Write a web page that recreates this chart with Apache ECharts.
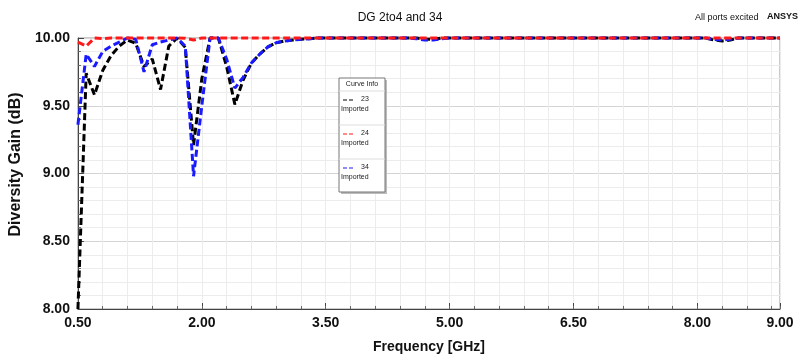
<!DOCTYPE html>
<html>
<head>
<meta charset="utf-8">
<script src="https://cdn.jsdelivr.net/npm/echarts@6/dist/echarts.min.js"></script>
<style>html,body{margin:0;padding:0;background:#fff}#c{width:800px;height:359px}</style>
</head>
<body>
<div id="c"></div>
<script>
// Frequencies (GHz)
var freq = [0.5,0.6,0.7,0.8,0.9,1.0,1.1,1.2,1.3,1.4,1.5,1.6,1.7,1.8,1.9,2.0,2.1,2.2,2.3,2.4,2.5,2.6,2.7,2.8,2.9,3.0,3.1,3.2,3.3,3.4,
            3.5,4.0,4.5,4.6,4.7,4.8,4.9,5.0,5.5,6.0,6.5,7.0,7.5,8.0,8.1,8.2,8.3,8.4,8.5,9.0];
// Diversity gain (dB)
var dg23 = [8.00,9.74,9.58,9.76,9.87,9.94,9.985,9.96,9.79,9.845,9.62,9.94,10.0,9.93,9.21,9.70,10.0,10.0,9.79,9.51,9.69,9.815,9.88,9.935,9.965,9.978,9.985,9.99,9.995,10.0,
            10.0,10.0,10.0,10.0,9.99,9.99,10.0,10.0,10.0,10.0,10.0,10.0,10.0,10.0,10.0,9.985,9.978,9.985,10.0,10.0];
var dg24 = [9.97,9.94,10.0,9.995,10.0,10.0,10.0,10.0,10.0,10.0,10.0,10.0,10.0,9.998,9.985,10.0,10.0,10.0,10.0,10.0,10.0,10.0,10.0,10.0,10.0,10.0,10.0,10.0,10.0,10.0,
            10.0,10.0,10.0,10.0,10.0,10.0,10.0,10.0,10.0,10.0,10.0,10.0,10.0,10.0,10.0,10.0,10.0,10.0,10.0,10.0];
var dg34 = [9.36,9.88,9.79,9.90,9.94,9.97,10.0,9.99,9.75,9.95,9.97,9.985,10.0,9.94,8.98,9.50,10.0,10.0,9.845,9.63,9.71,9.815,9.88,9.935,9.965,9.978,9.985,9.99,9.995,10.0,
            10.0,10.0,10.0,9.995,9.985,9.985,9.995,10.0,10.0,10.0,10.0,10.0,10.0,10.0,10.0,9.99,9.985,9.99,10.0,10.0];
var seriesNames = ['23','24','34'];
var seriesColors = ['#000000','#ff1a1a','#1a1aff'];
var xTicks = [0.5,2.0,3.5,5.0,6.5,8.0,9.0];
var yTicks = [8.0,8.5,9.0,9.5,10.0];

function pairs(ys){ return freq.map(function(f,i){ return [f, ys[i]]; }); }

var chart = echarts.init(document.getElementById('c'), null, {renderer:'canvas'});
var dash = [7,3.5];
function mkSeries(name, ys, color, z){
  return {name:name, type:'line', data:pairs(ys), showSymbol:false, symbol:'none', z:z,
    lineStyle:{color:color, width:3, type:dash}, clip:false, animation:false};
}
var legendY = [100,134,168];
var graphics = [
  {type:'text', left:'center', top:12, style:{text:'DG 2to4 and 34', font:'12px "Liberation Sans", Arial', fill:'#111'}},
  {type:'text', x:695, y:13, style:{text:'All ports excited', font:'9px "Liberation Sans", Arial', fill:'#111'}},
  {type:'text', x:767, y:12, style:{text:'ANSYS', font:'bold 9px "Liberation Sans", Arial', fill:'#111'}},
  {type:'rect', shape:{x:341, y:80, width:46, height:114}, style:{fill:'#bbb'}, z:10},
  {type:'rect', shape:{x:339, y:78, width:46, height:114}, style:{fill:'#fff', stroke:'#777', lineWidth:1}, z:11},
  {type:'text', x:362, y:81, style:{text:'Curve Info', font:'7px "Liberation Sans", Arial', fill:'#222', align:'center'}, z:12},
  {type:'line', shape:{x1:339,y1:91,x2:385,y2:91}, style:{stroke:'#ddd', lineWidth:1}, z:12},
  {type:'line', shape:{x1:339,y1:125,x2:385,y2:125}, style:{stroke:'#ddd', lineWidth:1}, z:12},
  {type:'line', shape:{x1:339,y1:159,x2:385,y2:159}, style:{stroke:'#ddd', lineWidth:1}, z:12}
];
seriesNames.forEach(function(n,i){
  var y = legendY[i];
  graphics.push({type:'line', shape:{x1:343,y1:y,x2:355,y2:y}, style:{stroke:seriesColors[i], lineWidth:1.2, lineDash:[4,2]}, z:12});
  graphics.push({type:'text', x:361, y:y-4, style:{text:n, font:'7px "Liberation Sans", Arial', fill:'#222'}, z:12});
  graphics.push({type:'text', x:341, y:y+6, style:{text:'Imported', font:'7px "Liberation Sans", Arial', fill:'#222'}, z:12});
});

var option = {
  animation:false,
  backgroundColor:'#fff',
  grid:{left:74, right:20, top:38, bottom:47, show:true, borderColor:'#999', borderWidth:1},
  xAxis:[
    {type:'value', min:0.5, max:9, interval:1.5, position:'bottom',
     name:'Frequency [GHz]', nameLocation:'middle', nameGap:31,
     nameTextStyle:{fontFamily:'"Liberation Sans", Arial', fontWeight:'bold', fontSize:14, color:'#111'},
     axisLine:{show:true, onZero:false, lineStyle:{color:'#444', width:1}},
     axisTick:{show:true, inside:true, length:6, lineStyle:{color:'#444'}},
     axisLabel:{margin:7, fontFamily:'"Liberation Sans", Arial', fontWeight:'bold', fontSize:14, color:'#111',
       showMaxLabel:true, formatter:function(v){return v.toFixed(2);}},
     splitLine:{show:true, lineStyle:{color:'#d4d4d4', width:1}}
    },
    {type:'value', min:0.5, max:9, interval:0.3, position:'bottom',
     axisLine:{show:false}, axisLabel:{show:false},
     axisTick:{show:true, inside:true, length:3, lineStyle:{color:'#666'}},
     splitLine:{show:true, lineStyle:{color:'#ececec', width:1}}
    }
  ],
  yAxis:{type:'value', min:8, max:10, interval:0.5,
    name:'Diversity Gain (dB)', nameLocation:'middle', nameGap:48, nameRotate:90,
    nameTextStyle:{fontFamily:'"Liberation Sans", Arial', fontWeight:'bold', fontSize:16, color:'#111', padding:[0,0,0,18]},
    axisLine:{show:true, lineStyle:{color:'#444', width:1}},
    axisTick:{show:true, inside:true, length:6, lineStyle:{color:'#444'}},
    minorTick:{show:true, splitNumber:5, length:3, lineStyle:{color:'#666'}},
    axisLabel:{margin:8, fontFamily:'"Liberation Sans", Arial', fontWeight:'bold', fontSize:14, color:'#111',
      formatter:function(v){return v.toFixed(2);}},
    splitLine:{show:true, lineStyle:{color:'#d4d4d4', width:1}},
    minorSplitLine:{show:true, lineStyle:{color:'#ececec', width:1}}
  },
  series:[
    mkSeries(seriesNames[0], dg23, seriesColors[0], 2),
    mkSeries(seriesNames[2], dg34, seriesColors[2], 3),
    mkSeries(seriesNames[1], dg24, seriesColors[1], 4)
  ],
  graphic:graphics
};
chart.setOption(option);
</script>
</body>
</html>
